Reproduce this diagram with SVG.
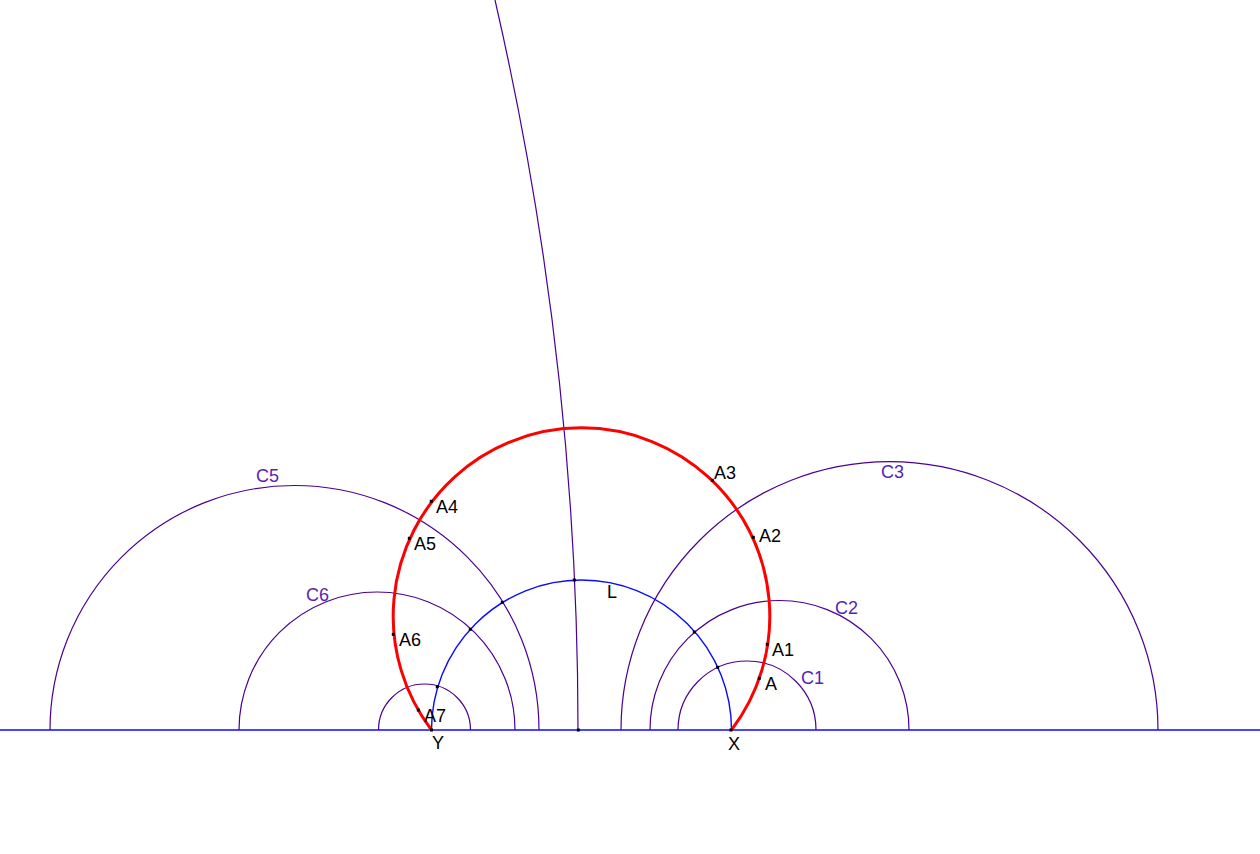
<svg xmlns="http://www.w3.org/2000/svg" width="1260" height="854" viewBox="0 0 1260 854">
<style>
.p{fill:none;stroke:#4b0092;stroke-width:1.2}
.b{fill:none;stroke:#0a0aff;stroke-width:1.4}
.r{fill:none;stroke:#ff0000;stroke-width:3}
.t{font-family:"Liberation Sans",Arial,sans-serif;font-size:18px;fill:#000}
.c{font-family:"Liberation Sans",Arial,sans-serif;font-size:18px;fill:#5a1eb4}
.d{fill:#000}
</style>
<rect width="1260" height="854" fill="#fff"/>
<g id="connectors">
<line class="b" x1="0" y1="730" x2="1260" y2="730" stroke-width="2"/>
<path id="long-curve" class="p" d="M578,730 A3251.7,3251.7 0 0 0 495,0"/>
<path id="C1" class="p" d="M678,730 A69,69 0 0 1 816,730"/>
<path id="C2" class="p" d="M650,730 A129.5,129.5 0 0 1 909,730"/>
<path id="C3" class="p" d="M621,730 A268.5,268.5 0 0 1 1158,730"/>
<path id="C5" class="p" d="M50,730 A244.5,244.5 0 0 1 539,730"/>
<path id="C6" class="p" d="M239,730 A138,138 0 0 1 515,730"/>
<path id="C7" class="p" d="M378.5,730 A46,46 0 0 1 470.5,730"/>
<path id="L" class="b" d="M431.5,730 A150,150 0 0 1 731.5,730"/>
<path id="red" class="r" d="M731.5,730 A188.3,188.3 0 1 0 431.5,730"/>
</g>
<g id="points">
<rect class="d" x="729.5" y="728.5" width="3" height="3"/>
<rect class="d" x="430" y="728.5" width="3" height="3"/>
<rect class="d" x="576.8" y="728.5" width="3" height="3"/>
<rect class="d" x="757.8" y="676.8" width="3" height="3"/>
<rect class="d" x="765.8" y="642.8" width="3" height="3"/>
<rect class="d" x="716.2" y="665.8" width="3" height="3"/>
<rect class="d" x="692.8" y="630.5" width="3" height="3"/>
<rect class="d" x="391.8" y="632.8" width="3" height="3"/>
<rect class="d" x="416.8" y="708.5" width="3" height="3"/>
<rect class="d" x="435.8" y="685.2" width="3" height="3"/>
<rect class="d" x="468.8" y="627.8" width="3" height="3"/>
<rect class="d" x="500.8" y="600.8" width="3" height="3"/>
<rect class="d" x="429.8" y="499.8" width="3" height="3"/>
<rect class="d" x="407.8" y="536.8" width="3" height="3"/>
<rect class="d" x="572.8" y="578.5" width="3" height="3"/>
<rect class="d" x="710.8" y="478.8" width="3" height="3"/>
<rect class="d" x="751.8" y="535.8" width="3" height="3"/>
</g>
<g id="labels">
<text class="t" x="765" y="690">A</text>
<text class="t" x="772" y="656">A1</text>
<text class="t" x="759" y="542">A2</text>
<text class="t" x="714" y="479">A3</text>
<text class="t" x="436" y="513">A4</text>
<text class="t" x="414" y="550">A5</text>
<text class="t" x="399" y="646">A6</text>
<text class="t" x="424" y="722">A7</text>
<text class="t" x="607" y="598">L</text>
<text class="t" x="728" y="750">X</text>
<text class="t" x="432" y="749">Y</text>
<text class="c" x="801" y="684">C1</text>
<text class="c" x="835" y="614">C2</text>
<text class="c" x="881" y="478">C3</text>
<text class="c" x="256" y="482">C5</text>
<text class="c" x="306" y="601">C6</text>
</g>
</svg>
